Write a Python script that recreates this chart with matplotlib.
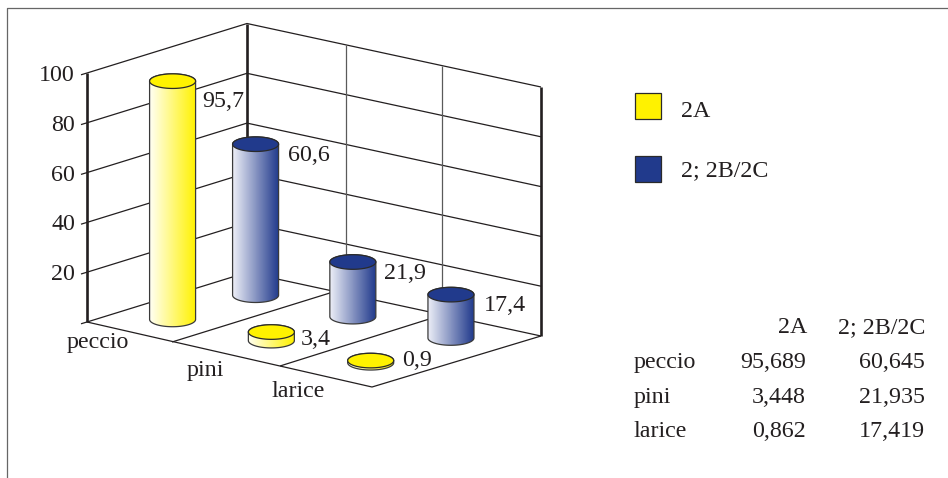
import numpy as np
import matplotlib
matplotlib.use("Agg")
import matplotlib.pyplot as plt
from matplotlib.colors import LinearSegmentedColormap
from matplotlib.patches import Polygon, Rectangle

# Chart data
categories = ["peccio", "pini", "larice"]
series_names = ["2A", "2; 2B/2C"]
values_2a = [95.689, 3.448, 0.862]
values_2b = [60.645, 21.935, 17.419]
y_ticks = [20, 40, 60, 80, 100]

# Colours
YELLOW = "#fff200"
BLUE = "#213a8c"
INK = "#231f20"
GREY = "#5a5a5a"

# Projection of the 3-D box onto the page, in pixels
FRONT_X = np.array([87.0, 172.0, 280.0, 372.0])
FRONT_Y = np.array([322.0, 342.0, 366.0, 387.0])
BACK_X = np.array([247.0, 346.0, 442.0, 541.0])
BACK_Y = np.array([272.5, 294.0, 315.0, 336.0])
# Depth of each cylinder on the floor, per series then category
CYL_DEPTH = [[0.258, 0.27, 0.27], [0.755, 0.755, 0.755]]
PX_PER_UNIT = 2.49
CYL_RX = 23.0
CYL_RY = 7.3


def floor_point(cat, depth):
    """Category position (0..3) and depth (0 front..1 back) to a floor point."""
    idx = np.arange(4)
    fx, fy = np.interp(cat, idx, FRONT_X), np.interp(cat, idx, FRONT_Y)
    bx, by = np.interp(cat, idx, BACK_X), np.interp(cat, idx, BACK_Y)
    return fx + (bx - fx) * depth, fy + (by - fy) * depth


def to_text(value, digits):
    return f"{value:.{digits}f}".replace(".", ",")


fig = plt.figure(figsize=(9.48, 4.78), dpi=100)
ax = fig.add_axes([0, 0, 1, 1])
ax.set_xlim(0, 948)
ax.set_ylim(478, 0)
ax.axis("off")

FONT = dict(family="Liberation Serif", color=INK, fontsize=17.3)
THIN = dict(color=INK, lw=0.9, solid_capstyle="butt", zorder=2)
WIRE = dict(color=GREY, lw=0.9, solid_capstyle="butt", zorder=2)
AXIS = dict(color=INK, lw=1.9, solid_capstyle="butt", zorder=3)

# Outer frame: left and top only
ax.plot([7.5, 7.5, 948], [478, 7.5, 7.5], color="#666666", lw=0.9, zorder=1)

# Walls and their value gridlines
LEFT = (87.0, 322.0)
BACK_LEFT = (BACK_X[0], BACK_Y[0])
BACK_RIGHT = (BACK_X[3], BACK_Y[3])
for tick in [0] + y_ticks:
    h = tick * PX_PER_UNIT
    ax.plot([LEFT[0] - 6, LEFT[0], BACK_LEFT[0], BACK_RIGHT[0]],
            [LEFT[1] - h + 1.8, LEFT[1] - h, BACK_LEFT[1] - h, BACK_RIGHT[1] - h], **THIN)
    if tick:
        ax.text(75, LEFT[1] - h + 8, str(tick), ha="right", va="baseline", **FONT)

top = max(y_ticks) * PX_PER_UNIT
for x, y in zip(BACK_X[1:3], BACK_Y[1:3]):
    ax.plot([x, x], [y - top, y], **WIRE)
ax.plot([LEFT[0]] * 2, [LEFT[1] - top, LEFT[1]], **AXIS)
ax.plot([BACK_LEFT[0]] * 2, [BACK_LEFT[1] - top, BACK_LEFT[1]], **AXIS)
ax.plot([BACK_RIGHT[0]] * 2, [BACK_RIGHT[1] - top, BACK_RIGHT[1]], **AXIS)

# Floor outline and category dividers
ax.plot([FRONT_X[0], FRONT_X[3], BACK_X[3]], [FRONT_Y[0], FRONT_Y[3], BACK_Y[3]], **THIN)
ax.plot([FRONT_X[1], 346], [FRONT_Y[1], 288], **THIN)
ax.plot([FRONT_X[2], BACK_X[2]], [FRONT_Y[2], BACK_Y[2]], **THIN)

# Category labels: (centre x, baseline y)
cat_label_pos = [(97.5, 348), (205, 375.7), (298, 396.7)]
for name, (x, y) in zip(categories, cat_label_pos):
    ax.text(x, y, name, ha="center", va="baseline", **FONT)


def cylinder(cx, base_y, value, face, light, order):
    """Shaded upright cylinder standing on (cx, base_y)."""
    height = value * PX_PER_UNIT
    top_y = base_y - height
    t = np.linspace(0, np.pi, 60)
    ex, ey = CYL_RX * np.cos(t), CYL_RY * np.sin(t)
    # Body: lower half of the base ellipse, then upper half of the top ellipse
    body = np.vstack([
        np.column_stack([cx + ex, base_y + ey]),
        np.column_stack([cx - ex, top_y - ey]),
    ])
    patch = Polygon(body, closed=True, facecolor="none", edgecolor="#3a3a3a",
                    lw=0.9, zorder=order + 0.2)
    ax.add_patch(patch)
    cmap = LinearSegmentedColormap.from_list("side", [light, face])
    im = ax.imshow(np.linspace(0, 1, 128)[None, :], cmap=cmap, aspect="auto",
                   extent=(cx - CYL_RX, cx + CYL_RX, base_y + CYL_RY, top_y - CYL_RY),
                   zorder=order)
    im.set_clip_path(patch)
    # Lid
    s = np.linspace(0, 2 * np.pi, 90)
    lid = np.column_stack([cx + CYL_RX * np.cos(s), top_y + CYL_RY * np.sin(s)])
    ax.add_patch(Polygon(lid, closed=True, facecolor=face, edgecolor="#2a2a2a",
                         lw=0.9, zorder=order + 0.3))
    return top_y


# Data labels sit beside each lid: (dx, dy) from the lid centre, per series then category
label_offsets = {
    0: [(29.5, 26), (29.5, 13), (31, 5)],
    1: [(32, 17), (31.5, 17), (32.5, 16)],
}
series_values = [values_2a, values_2b]
series_style = [(YELLOW, "#fffff2"), (BLUE, "#eceef7")]
order = 5
for j in (1, 0):
    for i in range(len(categories)):
        cx, base_y = floor_point(i + 0.5, CYL_DEPTH[j][i])
        value = series_values[j][i]
        face, light = series_style[j]
        top_y = cylinder(cx, base_y, value, face, light, order)
        dx, dy = label_offsets[j][i]
        ax.text(cx + dx, top_y + dy, to_text(value, 1), ha="left", va="baseline",
                zorder=order + 1, **FONT)
        order += 2
ax.set_xlim(0, 948)
ax.set_ylim(478, 0)

# Legend
for name, face, y0, base in zip(series_names, (YELLOW, BLUE), (92.5, 155.5), (116.7, 176)):
    ax.add_patch(Rectangle((636, y0 + 1), 26.5, 26.5, facecolor="#c8c8c8", edgecolor="none", zorder=2))
    ax.add_patch(Rectangle((635, y0), 26.5, 26.5, facecolor=face, edgecolor="#2a2a2a", lw=0.9, zorder=3))
    ax.text(681.5, base, name, ha="left", va="baseline", **FONT)

# Data table
ax.text(807, 333.3, series_names[0], ha="right", va="baseline", **FONT)
ax.text(925, 333.3, series_names[1], ha="right", va="baseline", **FONT)
for name, v_a, v_b, base in zip(categories, values_2a, values_2b, (368, 402.7, 436.7)):
    ax.text(634, base, name, ha="left", va="baseline", **FONT)
    ax.text(806, base, to_text(v_a, 3), ha="right", va="baseline", **FONT)
    ax.text(925, base, to_text(v_b, 3), ha="right", va="baseline", **FONT)

fig.savefig("out.png", dpi=100)
